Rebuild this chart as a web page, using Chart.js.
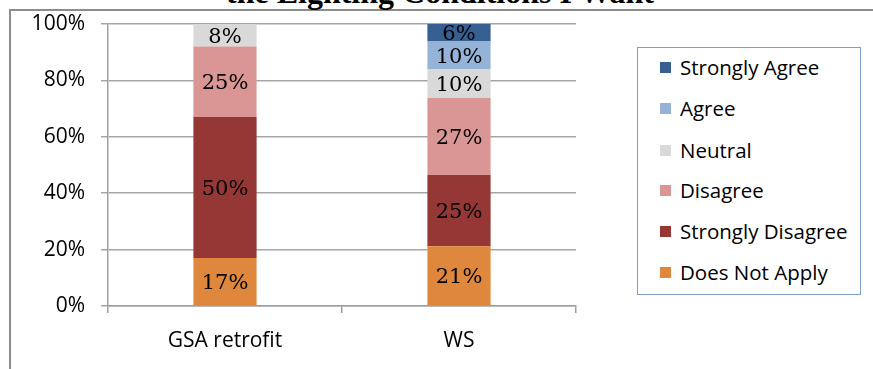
<!DOCTYPE html>
<html>
<head>
<meta charset="utf-8">
<script src="https://cdn.jsdelivr.net/npm/chart.js@4/dist/chart.umd.min.js"></script>
<style>
  html, body { margin: 0; padding: 0; background: #fff; width: 873px; height: 369px; overflow: hidden; }
  #frame { position: absolute; left: 9px; top: 9px; width: 900px; height: 400px; border-left: 2px solid #8c8c8c; border-top: 2px solid #8c8c8c; box-sizing: border-box; }
  #title { position: absolute; left: 0; width: 880px; top: -24px; text-align: center; font: bold 32px "Liberation Serif", serif; line-height: 32px; color: #000; white-space: nowrap; }
  #wrap { position: absolute; left: 0; top: 0; width: 873px; height: 369px; }
  #legend { position: absolute; left: 637px; top: 47px; width: 224px; height: 248px; border: 1.5px solid #7f9fcb; box-sizing: border-box; background: #fff; }
  .item { position: absolute; left: 22px; height: 26px; display: flex; align-items: center; font: 20.5px "Open Sans", sans-serif; color: #000; white-space: nowrap; }
  .sw { width: 11px; height: 11px; margin-right: 9px; }
</style>
</head>
<body>
<div id="frame"></div>
<div id="title">the Lighting Conditions I Want</div>
<div id="wrap"><canvas id="c" width="873" height="369"></canvas></div>
<div id="legend"></div>
<script>
const categories = ['GSA retrofit', 'WS'];
const seriesNames = ['Does Not Apply', 'Strongly Disagree', 'Disagree', 'Neutral', 'Agree', 'Strongly Agree'];
const doesNotApply = [17, 21];
const stronglyDisagree = [50, 25];
const disagree = [25, 27];
const neutral = [8, 10];
const agree = [0, 10];
const stronglyAgree = [0, 6];
const yTickValues = [0, 20, 40, 60, 80, 100];

const seriesValues = [doesNotApply, stronglyDisagree, disagree, neutral, agree, stronglyAgree];
const colors = ['#df873c', '#953735', '#d99694', '#d9d9d9', '#95b3d7', '#376092'];

const totals = categories.map((_, i) => seriesValues.reduce((s, arr) => s + arr[i], 0));

const datasets = seriesNames.map((name, k) => ({
  label: name,
  raw: seriesValues[k],
  data: seriesValues[k].map((v, i) => v / totals[i] * 100),
  backgroundColor: colors[k],
  borderWidth: 0,
  categoryPercentage: 1,
  barPercentage: 0.27
}));

const labelPlugin = {
  id: 'barLabels',
  afterDatasetsDraw(chart) {
    const ctx = chart.ctx;
    ctx.save();
    ctx.font = '21px "DejaVu Serif", serif';
    ctx.fillStyle = '#000';
    ctx.textAlign = 'center';
    ctx.textBaseline = 'middle';
    chart.data.datasets.forEach((ds, di) => {
      const meta = chart.getDatasetMeta(di);
      meta.data.forEach((bar, i) => {
        const v = ds.raw[i];
        if (!v) return;
        const yc = (bar.y + bar.base) / 2;
        ctx.fillText(v + '%', bar.x, yc + 2);
      });
    });
    ctx.restore();
  }
};

new Chart(document.getElementById('c'), {
  type: 'bar',
  data: { labels: categories, datasets },
  options: {
    responsive: false,
    animation: false,
    layout: { padding: { left: 0, right: 297, top: 24, bottom: 0 } },
    plugins: { legend: { display: false }, tooltip: { enabled: false }, title: { display: false } },
    scales: {
      x: {
        stacked: true,
        offset: true,
        grid: { offset: true, drawOnChartArea: false, drawTicks: true, tickLength: 7, color: '#a0a0a0', lineWidth: 1.5 },
        border: { color: '#a0a0a0', width: 1.5 },
        ticks: { color: '#000', font: { family: 'Open Sans', size: 21 }, padding: 15 },
        afterFit(s) { s.height = 63; s.paddingLeft = 0; s.paddingRight = 0; }
      },
      y: {
        stacked: true,
        min: 0, max: 100,
        afterBuildTicks(s) { s.ticks = yTickValues.map(v => ({ value: v })); },
        grid: { color: '#a6a6a6', lineWidth: 1.5, drawTicks: true, tickLength: 7 },
        border: { color: '#a0a0a0', width: 1.5 },
        ticks: { color: '#000', font: { family: 'Open Sans', size: 21 }, padding: 16, callback: v => v + '%' },
        afterFit(s) { s.width = 108; s.paddingTop = 0; s.paddingBottom = 0; }
      }
    }
  },
  plugins: [labelPlugin]
});

const legend = document.getElementById('legend');
const centers = [19, 60, 102, 142, 183, 224];
seriesNames.slice().reverse().forEach((name, j) => {
  const k = seriesNames.length - 1 - j;
  const d = document.createElement('div');
  d.className = 'item';
  d.style.top = (centers[j] - 13) + 'px';
  d.innerHTML = '<span class="sw" style="background:' + colors[k] + '"></span>';
  d.appendChild(document.createTextNode(name));
  legend.appendChild(d);
});
</script>
</body>
</html>
